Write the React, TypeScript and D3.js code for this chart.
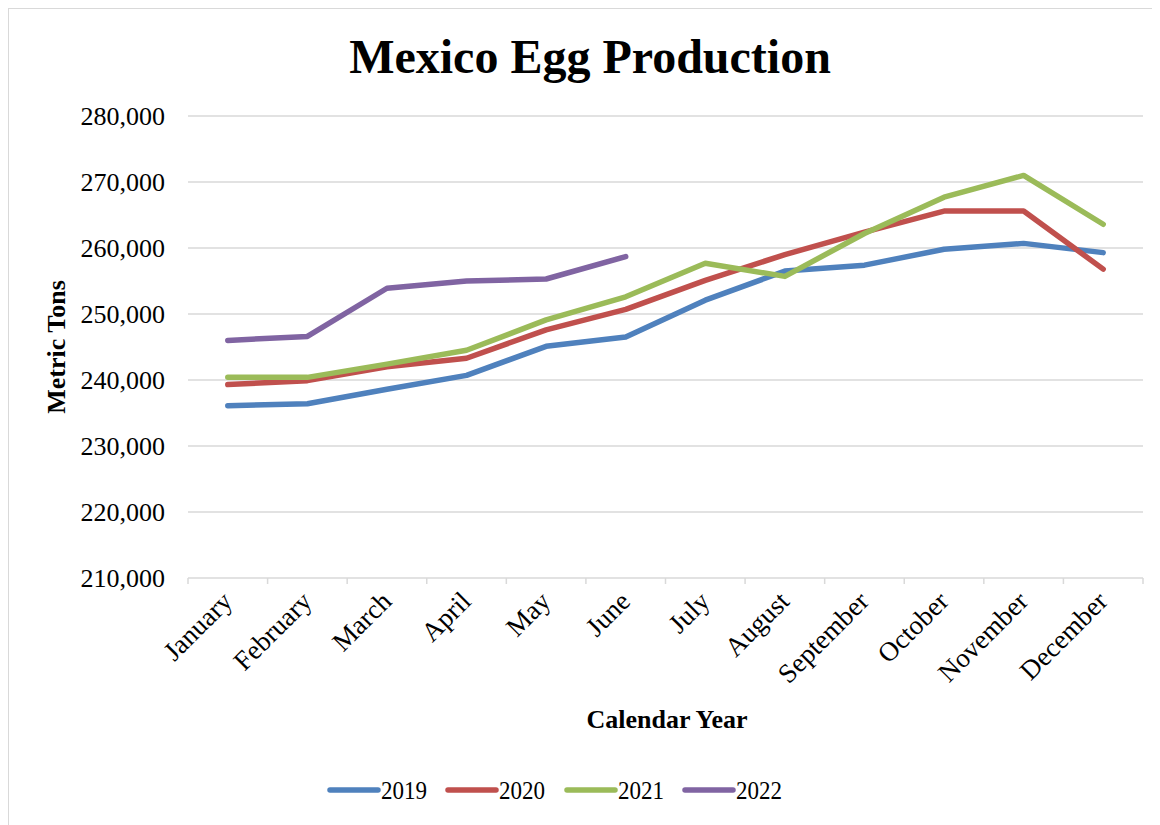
import React from "react";
import * as d3 from "d3";

const months = ["January","February","March","April","May","June","July","August","September","October","November","December"];
const yTicks = [210000,220000,230000,240000,250000,260000,270000,280000];
const v2019 = [236100,236400,238600,240700,245100,246500,252100,256500,257400,259800,260700,259300];
const v2020 = [239300,239900,242000,243300,247600,250700,255100,259000,262400,265600,265600,256800];
const v2021 = [240400,240400,242400,244500,249100,252600,257700,255700,262200,267700,271000,263600];
const v2022 = [246000,246600,253900,255000,255300,258700];
const seriesNames = ["2019","2020","2021","2022"];
const seriesColors = ["#4F81BD","#C0504D","#9BBB59","#8064A2"];
const seriesValues = [v2019, v2020, v2021, v2022];

const W = 1152, H = 817;
const left = 180, right = 1135, top = 108, bottom = 570;
const font = "'Liberation Serif', 'Times New Roman', serif";

export default function App() {
  const x = d3.scaleBand<string>().domain(months).range([left, right]).paddingInner(0).paddingOuter(0);
  const y = d3.scaleLinear().domain([210000, 280000]).range([bottom, top]);
  const fmt = d3.format(",");
  const line = d3.line<number>().x((_, i) => (x(months[i]) as number) + x.bandwidth() / 2).y((d) => y(d));
  const bounds = d3.range(13).map((i) => left + i * x.bandwidth());
  const legendX = [322, 440, 559, 677];
  return (
    <svg width={W} height={H} style={{ display: "block", fontFamily: font }}>
      <rect x={0.5} y={0.5} width={W + 20} height={H + 20} fill="#fff" stroke="#d9d9d9" />
      <text x={582} y={65} textAnchor="middle" fontSize={48} fontWeight="bold" fill="#000">Mexico Egg Production</text>
      {yTicks.map((t) => (
        <g key={t}>
          {t !== 210000 && <line x1={left} x2={right} y1={y(t)} y2={y(t)} stroke="#d9d9d9" strokeWidth={1.5} />}
          <text x={157} y={y(t)} dy="0.35em" textAnchor="end" fontSize={26} fill="#000">{fmt(t)}</text>
        </g>
      ))}
      <line x1={left} x2={right} y1={bottom} y2={bottom} stroke="#d9d9d9" strokeWidth={1.5} />
      {bounds.map((b, i) => (
        <line key={i} x1={b} x2={b} y1={bottom} y2={bottom + 6} stroke="#d9d9d9" strokeWidth={1.5} />
      ))}
      {months.map((m) => {
        const cx = (x(m) as number) + x.bandwidth() / 2 + 6;
        return (
          <text key={m} transform={`translate(${cx},${bottom + 25}) rotate(-45)`} textAnchor="end" fontSize={27} fill="#000">{m}</text>
        );
      })}
      <text transform={`translate(57,${(top + bottom) / 2}) rotate(-90)`} textAnchor="middle" fontSize={26} fontWeight="bold" fill="#000">Metric Tons</text>
      <text x={659} y={720} textAnchor="middle" fontSize={26} fontWeight="bold" fill="#000">Calendar Year</text>
      {seriesValues.map((vals, i) => (
        <path key={i} d={line(vals) || ""} fill="none" stroke={seriesColors[i]} strokeWidth={5.5} strokeLinejoin="round" strokeLinecap="round" />
      ))}
      {seriesNames.map((n, i) => (
        <g key={n}>
          <line x1={legendX[i]} x2={legendX[i] + 48} y1={782} y2={782} stroke={seriesColors[i]} strokeWidth={5.5} strokeLinecap="round" />
          <text x={legendX[i] + 51} y={782} dy="0.35em" fontSize={26} textLength={46} lengthAdjust="spacingAndGlyphs" fill="#000">{n}</text>
        </g>
      ))}
    </svg>
  );
}
